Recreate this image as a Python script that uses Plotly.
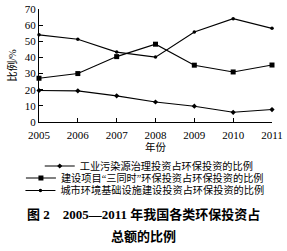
import plotly.graph_objects as go

years = [2005, 2006, 2007, 2008, 2009, 2010, 2011]
industrial = [19.5, 19.3, 16.2, 12.4, 9.8, 6.0, 7.7]
santongshi = [27.1, 30.0, 40.5, 48.2, 35.2, 31.0, 35.3]
urban = [54.0, 51.3, 43.3, 40.2, 55.8, 64.0, 58.0]

name_ind = "工业污染源治理投资占环保投资的比例"
name_sts = "建设项目“三同时”环保投资占环保投资的比例"
name_urb = "城市环境基础设施建设投资占环保投资的比例"
yticks = [0, 10, 20, 30, 40, 50, 60, 70]

FONT = "Liberation Serif, Noto Sans CJK SC"

fig = go.Figure()
fig.add_trace(go.Scatter(x=years, y=industrial, name=name_ind, mode="lines+markers",
                         line=dict(color="black", width=1.1),
                         marker=dict(symbol="diamond", size=4, color="black"),
                         legend="legend", cliponaxis=False))
fig.add_trace(go.Scatter(x=years, y=santongshi, name=name_sts, mode="lines+markers",
                         line=dict(color="black", width=1.1),
                         marker=dict(symbol="square", size=5, color="black"),
                         legend="legend2", cliponaxis=False))
fig.add_trace(go.Scatter(x=years, y=urban, name=name_urb, mode="lines+markers",
                         line=dict(color="black", width=1.1),
                         marker=dict(symbol="circle", size=3.5, color="black"),
                         legend="legend3", cliponaxis=False))

leg_common = dict(xref="container", yref="container", xanchor="center", yanchor="middle",
                  font=dict(family=FONT, size=10.2, color="black"),
                  bgcolor="rgba(0,0,0,0)", borderwidth=0, itemwidth=30,
                  tracegroupgap=0)

fig.update_layout(
    width=287, height=251,
    margin=dict(l=39, r=15, t=9, b=129, autoexpand=False),
    paper_bgcolor="white", plot_bgcolor="white",
    font=dict(family=FONT, size=11, color="black"),
    showlegend=True,
    legend=dict(x=0.52, y=1 - 166.0 / 251, **leg_common),
    legend2=dict(x=0.505, y=1 - 178.0 / 251, **leg_common),
    legend3=dict(x=0.505, y=1 - 190.5 / 251, **leg_common),
    xaxis=dict(range=[2005, 2011], tickvals=years, ticktext=[str(y) for y in years],
               ticks="inside", ticklen=4, tickcolor="black", showline=True,
               linecolor="black", linewidth=1, showgrid=False, zeroline=False,
               automargin=False, ticklabelstandoff=3,
               tickfont=dict(family=FONT, size=11),
               title=dict(text="年份", font=dict(family=FONT, size=10.5), standoff=2)),
    yaxis=dict(range=[0, 70], tickvals=yticks, ticks="inside", ticklen=4,
               tickcolor="black", showline=True, linecolor="black", linewidth=1,
               showgrid=False, zeroline=False, automargin=False,
               tickfont=dict(family=FONT, size=11),
               title=dict(text="比例/%", font=dict(family=FONT, size=10.5), standoff=6)),
    annotations=[
        dict(text="<b>图 2　2005—2011 年我国各类环保投资占</b>", xref="paper", yref="paper",
             x=0.45, y=(122 - 214) / 113, xanchor="center", yanchor="middle",
             showarrow=False, font=dict(family=FONT, size=13, color="black")),
        dict(text="<b>总额的比例</b>", xref="paper", yref="paper",
             x=0.45, y=(122 - 236) / 113, xanchor="center", yanchor="middle",
             showarrow=False, font=dict(family=FONT, size=13, color="black")),
    ],
)

fig.write_html("out.html")
